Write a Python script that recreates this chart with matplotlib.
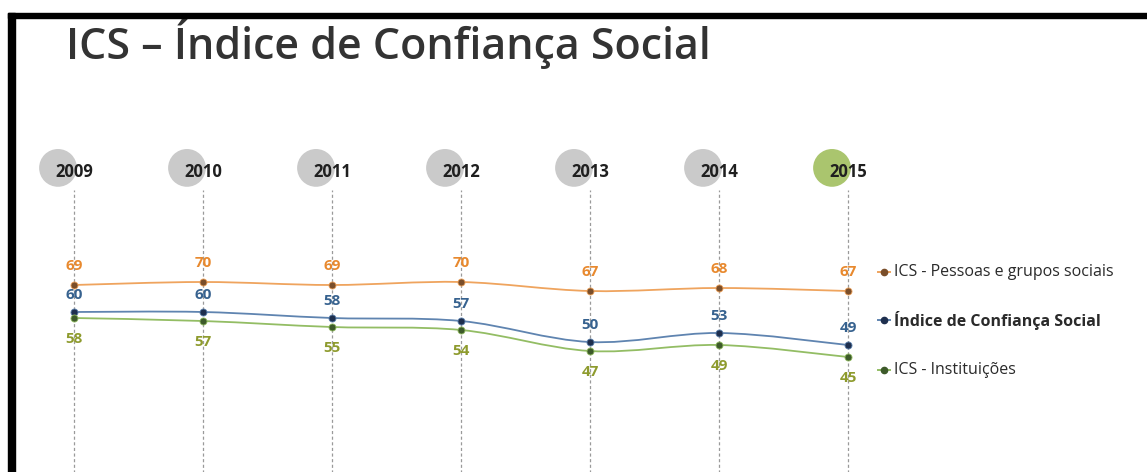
import numpy as np
import matplotlib
matplotlib.use("Agg")
import matplotlib.pyplot as plt
from matplotlib.path import Path
from matplotlib.patches import PathPatch, Rectangle
from matplotlib.transforms import ScaledTranslation

plt.rcParams['font.family'] = ['Open Sans', 'DejaVu Sans']

# data
years = [2009, 2010, 2011, 2012, 2013, 2014, 2015]
pessoas = [69, 70, 69, 70, 67, 68, 67]
indice = [60, 60, 58, 57, 50, 53, 49]
instituicoes = [58, 57, 55, 54, 47, 49, 45]
series_names = ['ICS - Pessoas e grupos sociais', 'Índice de Confiança Social', 'ICS - Instituições']
title = 'ICS – Índice de Confiança Social'

line_colors = ['#EFA45E', '#5F84B0', '#93BD64']
marker_colors = ['#7A4E2A', '#1E2F4E', '#3D5A2A']
label_colors = ['#E8892E', '#37628F', '#8E9B2E']


def smooth_path(xs, ys):
    # catmull-rom style bezier, like excel smoothed lines
    pts = np.column_stack([xs, ys]).astype(float)
    verts = [pts[0]]
    codes = [Path.MOVETO]
    n = len(pts)
    for i in range(n - 1):
        p0 = pts[max(i - 1, 0)]
        p1 = pts[i]
        p2 = pts[i + 1]
        p3 = pts[min(i + 2, n - 1)]
        c1 = p1 + (p2 - p0) / 6.0
        c2 = p2 - (p3 - p1) / 6.0
        verts += [c1, c2, p2]
        codes += [Path.CURVE4] * 3
    return Path(verts, codes)


fig = plt.figure(figsize=(11.47, 4.72), dpi=100)
ax = fig.add_axes([0, 0, 1, 1])
ax.set_xlim(2009 - 74 / 129.0, 2009 + 1073 / 129.0)
ax.set_ylim(492 / 3.0 - 472 / 3.0, 492 / 3.0)
ax.axis('off')

# dashed guides
ax.vlines(years, 0, 100.6, colors='#9a9a9a', linestyles=(0, (2.5, 2)), linewidth=0.9, zorder=1)

# year bubbles
circ_off = ax.transData + ScaledTranslation(-0.16, 0.04, fig.dpi_scale_trans)
bubble_colors = ['#CACACA'] * (len(years) - 1) + ['#AAC56E']
ax.scatter(years, [106.7] * len(years), s=740, c=bubble_colors, edgecolors='none',
           transform=circ_off, zorder=2)
for y in years:
    ax.text(y, 106.7, str(y), ha='center', va='center', fontsize=12,
            fontweight='bold', color='#1f1f1f', zorder=3)

# lines
all_series = [pessoas, indice, instituicoes]
label_offsets = [19, 17, -21]
for vals, lc, mc, tc, off in zip(all_series, line_colors, marker_colors, label_colors, label_offsets):
    ax.add_patch(PathPatch(smooth_path(years, vals), facecolor='none', edgecolor=lc,
                           linewidth=1.3, zorder=4))
    ax.scatter(years, vals, s=26, color=mc, edgecolors=lc, linewidths=0.6, zorder=5)
    for x, v in zip(years, vals):
        ax.annotate(str(v), (x, v), xytext=(0, off), textcoords='offset pixels',
                    ha='center', va='center', fontsize=11, fontweight='bold',
                    color=tc, zorder=6)

# legend
legend_rows = [272, 320, 370]
for name, lc, mc, row in zip(series_names, line_colors, marker_colors, legend_rows):
    yf = 1 - row / 472.0
    fig.add_artist(plt.Line2D([878 / 1147.0, 890 / 1147.0], [yf, yf], color=lc, linewidth=1.4))
    fig.add_artist(plt.Line2D([884 / 1147.0], [yf], marker='o', markersize=4.5, color=mc))
    fig.text(894 / 1147.0, yf, name, ha='left', va='center', fontsize=11.5,
             color='#2a2a2a', fontweight='bold' if name.startswith('Índice') else 'normal')

# title
fig.text(66 / 1147.0, 1 - 44 / 472.0, title, ha='left', va='center', fontsize=31,
         color='#333333', fontweight='semibold')

# black frame (top and left)
fig.add_artist(Rectangle((8 / 1147.0, 0), 7 / 1147.0, 1 - 13 / 472.0, transform=fig.transFigure,
                         color='black', zorder=10))
fig.add_artist(Rectangle((8 / 1147.0, 1 - 18 / 472.0), 1, 5 / 472.0, transform=fig.transFigure,
                         color='black', zorder=10))

fig.savefig('out.png', dpi=100)
